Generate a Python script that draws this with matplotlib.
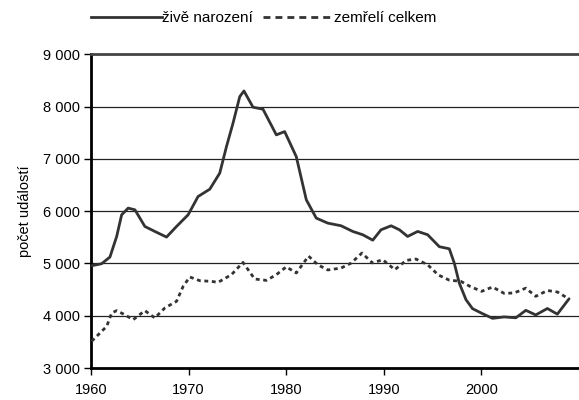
import matplotlib
matplotlib.use("Agg")
import matplotlib.pyplot as plt
from matplotlib.lines import Line2D
from matplotlib.ticker import FuncFormatter

plt.rcParams['font.family'] = ['Liberation Sans', 'DejaVu Sans']

# Data (year position, number of events)
birth_years = [1960.07, 1961.09, 1961.94, 1962.63, 1963.14, 1963.81, 1964.5, 1965.52,
               1966.54, 1967.74, 1968.76, 1969.95, 1970.97, 1972.17, 1973.19, 1973.88,
               1974.55, 1975.24, 1975.67, 1976.6, 1977.62, 1978.99, 1979.84, 1981.03,
               1982.06, 1983.08, 1984.26, 1985.63, 1986.82, 1987.84, 1988.87, 1989.72,
               1990.75, 1991.6, 1992.44, 1993.47, 1994.49, 1995.69, 1996.71, 1997.22,
               1997.73, 1998.42, 1999.09, 2000.11, 2001.14, 2002.33, 2003.53, 2004.55,
               2005.57, 2006.76, 2007.78, 2008.98]
births = [4956, 4995, 5122, 5516, 5930, 6058, 6026, 5707,
          5612, 5504, 5707, 5930, 6280, 6420, 6727, 7235,
          7682, 8190, 8299, 7988, 7950, 7459, 7522, 7044,
          6217, 5867, 5771, 5720, 5612, 5549, 5445, 5644,
          5720, 5644, 5516, 5612, 5549, 5320, 5280, 5008,
          4626, 4307, 4135, 4040, 3950, 3977, 3960, 4103,
          4015, 4138, 4030, 4323]

death_years = [1960.07, 1960.75, 1961.61, 1962.12, 1962.63, 1963.3, 1964.33, 1965.52,
               1966.54, 1967.57, 1968.76, 1969.44, 1970.12, 1971.15, 1972.34, 1973.02,
               1974.39, 1975.57, 1976.77, 1977.97, 1978.99, 1980.01, 1981.03, 1982.29,
               1983.24, 1984.26, 1985.63, 1986.66, 1987.76, 1988.83, 1989.89, 1991.13,
               1992.28, 1993.3, 1994.49, 1995.58, 1996.71, 1997.9, 1998.83, 2000.03,
               2001.14, 2002.33, 2003.35, 2004.55, 2005.57, 2006.76, 2007.78, 2008.98]
deaths = [3511, 3638, 3797, 4053, 4097, 4034, 3925, 4097,
          3958, 4149, 4275, 4561, 4741, 4670, 4657, 4638,
          4785, 5020, 4702, 4676, 4785, 4935, 4817, 5140,
          4975, 4875, 4912, 5008, 5199, 5010, 5071, 4880,
          5058, 5084, 4975, 4780, 4680, 4657, 4561, 4466,
          4549, 4428, 4435, 4527, 4371, 4482, 4454, 4320]

labels = ["živě narození", "zemřelí celkem"]

fig = plt.figure(figsize=(5.79, 4.0), dpi=100)
ax = fig.add_axes([91 / 579, 1 - 368 / 400, 1 - 91 / 579, (368 - 54.3) / 400])

ax.set_xlim(1960, 2010)
ax.set_ylim(3000, 9000)
ax.set_yticks(range(3000, 9001, 1000))
ax.set_xticks(range(1960, 2001, 10))
ax.yaxis.set_major_formatter(FuncFormatter(lambda v, p: f"{int(v):,}".replace(",", " ")))

for v in range(4000, 9000, 1000):
    ax.axhline(v, color="#222222", lw=0.9, zorder=1)

ax.plot(birth_years, births, color="#333333", lw=2.0, solid_joinstyle="round",
        solid_capstyle="round", zorder=3)
ax.plot(death_years, deaths, color="#333333", lw=2.0, linestyle=(0, (1.4, 1.3)), zorder=3)

for side in ["left", "bottom"]:
    ax.spines[side].set_linewidth(2.0)
    ax.spines[side].set_color("black")
ax.spines["top"].set_linewidth(2.0)
ax.spines["top"].set_color("#444444")
ax.spines["right"].set_visible(False)

ax.tick_params(axis="both", direction="out", length=5, width=1, labelsize=10.5, color="black")
ax.tick_params(axis="x", pad=6)
ax.tick_params(axis="y", pad=3)
ax.set_ylabel("počet událostí", fontsize=10.5, labelpad=8)

# legend samples (Excel draws the dashed sample with longer dashes)
handles = [Line2D([], [], color="#333333", lw=2.0),
           Line2D([], [], color="#333333", lw=2.0, linestyle=(0, (2.5, 1.8)))]
fig.legend(handles, labels, loc="center", bbox_to_anchor=(0.456, 0.955), ncol=2,
           frameon=False, fontsize=11, handlelength=4.6, handletextpad=0.05,
           columnspacing=0.65)

fig.savefig("out.png", dpi=100)
